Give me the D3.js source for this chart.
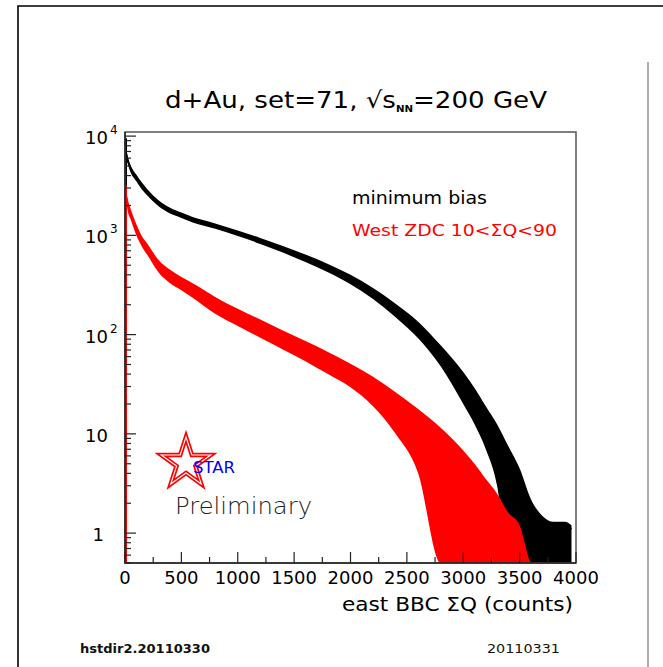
<!DOCTYPE html>
<meta charset="utf-8">
<script src="https://d3js.org/d3.v7.min.js"></script>
<style>
  body { margin: 0; background: #fff; }
  text { font-family: "DejaVu Sans", sans-serif; }
</style>
<svg id="chart" width="663" height="667"></svg>
<script>

var bbcQ = [0, 10, 25, 50, 100, 150, 200, 300, 400, 500, 600, 800, 1000, 1200, 1400, 1600, 1800, 2000,
            2200, 2400, 2600, 2800, 3000, 3100, 3200, 3300, 3400, 3500, 3600, 3700, 3800, 3900, 3960];

// minimum bias: typical value and upper / lower edge of the noise band (0 = empty bins)
var mbMid = [8000, 6800, 5700, 4700, 3800, 3150, 2700, 2100, 1780, 1600, 1440, 1240, 1050, 877, 723, 587, 467, 358,
             259, 175, 111, 62, 30, 19.8, 12.3, 7.4, 3.9, 2.2, 1.8, 1.3, 1.2, 1.2, 1.1];
var mbHi  = [9500, 7600, 6200, 5100, 4100, 3400, 2900, 2250, 1900, 1700, 1530, 1320, 1120, 940, 780, 640, 515, 400,
             295, 205, 135, 78, 42, 29, 19, 12.5, 7.5, 4.5, 2.2, 1.5, 1.3, 1.3, 1.2];
var mbLo  = [6500, 6000, 5200, 4300, 3500, 2900, 2500, 1950, 1660, 1500, 1350, 1165, 985, 820, 670, 540, 425, 322,
             228, 150, 92, 48, 20, 12.5, 7, 3, 0, 0, 0, 0, 0, 0, 0];

// West ZDC 10<SumQ<90
var zdcMid = [3000, 2500, 2000, 1650, 1150, 870, 720, 490, 390, 330, 280, 200, 152, 117, 90, 70, 53, 40.5,
              28, 19, 12.5, 7.8, 4.4, 3.2, 2.5, 2, 1.5, 1.1, 0, 0, 0, 0, 0];
var zdcHi  = [3200, 2800, 2300, 1850, 1300, 980, 820, 560, 450, 380, 330, 240, 182, 142, 110, 86, 67, 51,
              37.6, 26.3, 17.8, 11.5, 6.8, 5, 3.5, 2.5, 1.6, 1.2, 0, 0, 0, 0, 0];
var zdcLo  = [2800, 2300, 1750, 1450, 1000, 770, 630, 420, 330, 280, 235, 162, 122, 93, 71, 54, 40, 29.5,
              19, 10, 4, 0, 0, 0, 0, 0, 0, 0, 0, 0, 0, 0, 0];

var xMajor = [0, 500, 1000, 1500, 2000, 2500, 3000, 3500, 4000];
var xMinor = [250, 750, 1250, 1750, 2250, 2750, 3250, 3750];
var yDecades = [1, 10, 100, 1000, 10000];
var yLabels = ["1", "10", "10|2", "10|3", "10|4"];

var svg = d3.select("svg");

var x = d3.scaleLinear().domain([0, 4000]).range([125, 576]);
var y = d3.scaleLog().domain([0.5, 11000]).range([563, 132]).clamp(true);
var plotBottom = y.range()[0], plotTop = y.range()[1];

// canvas frame
svg.append("path")
  .attr("d", "M18,667 V6 H663")
  .attr("fill", "none").attr("stroke", "#000").attr("stroke-width", 1.6);
svg.append("line")
  .attr("x1", 648).attr("x2", 648).attr("y1", 62).attr("y2", 667)
  .attr("stroke", "#777").attr("stroke-width", 1.2);

svg.append("clipPath").attr("id", "plotclip")
  .append("rect").attr("x", x(0)).attr("y", plotTop)
  .attr("width", x(4000) - x(0)).attr("height", plotBottom - plotTop);

var g = svg.append("g").attr("clip-path", "url(#plotclip)");

function yv(v) { return v > 0 ? y(v) : plotBottom; }

function drawSeries(mid, hi, lo, color) {
  var rows = bbcQ.map(function(q, i) { return {q: q, mid: mid[i], hi: hi[i], lo: lo[i]}; });
  g.append("path").datum(rows)
    .attr("d", d3.area().curve(d3.curveMonotoneX)
      .x(function(d) { return x(d.q); })
      .y0(function(d) { return yv(d.lo); })
      .y1(function(d) { return yv(d.hi); }))
    .attr("fill", color);
  g.append("path").datum(rows)
    .attr("d", d3.line().curve(d3.curveMonotoneX)
      .x(function(d) { return x(d.q); }).y(function(d) { return yv(d.mid); }))
    .attr("fill", "none").attr("stroke", color).attr("stroke-width", 1.6);
  // left edge of the first bin drops down to the frame
  g.append("line")
    .attr("x1", x(0) + 1).attr("x2", x(0) + 1)
    .attr("y1", yv(hi[0])).attr("y2", plotBottom)
    .attr("stroke", color).attr("stroke-width", 2);
}

drawSeries(mbMid, mbHi, mbLo, "#000");
drawSeries(zdcMid, zdcHi, zdcLo, "#ff0000");

// frame of the pad
svg.append("rect")
  .attr("x", x(0)).attr("y", plotTop).attr("width", x(4000) - x(0)).attr("height", plotBottom - plotTop)
  .attr("fill", "none").attr("stroke", "#555").attr("stroke-width", 1.5);
svg.append("path")
  .attr("d", "M" + x(0) + "," + plotTop + " V" + plotBottom + " H" + x(4000))
  .attr("fill", "none").attr("stroke", "#222").attr("stroke-width", 1.5);

// x ticks
var ax = svg.append("g").attr("stroke", "#222").attr("stroke-width", 1.2);
xMajor.forEach(function(v) {
  ax.append("line").attr("x1", x(v)).attr("x2", x(v)).attr("y1", plotBottom).attr("y2", plotBottom - 11);
});
xMinor.forEach(function(v) {
  ax.append("line").attr("x1", x(v)).attr("x2", x(v)).attr("y1", plotBottom).attr("y2", plotBottom - 6);
});
svg.append("g").selectAll("text").data(xMajor).join("text")
  .attr("x", function(d) { return x(d); }).attr("y", 584)
  .attr("text-anchor", "middle").attr("font-size", 18).attr("fill", "#000")
  .text(function(d) { return d; });

// y ticks (log)
var minors = [];
[0.1, 1, 10, 100, 1000].forEach(function(dec) {
  for (var m = 2; m <= 9; m++) {
    var v = dec * m;
    if (v >= 0.5 && v <= 11000) minors.push(v);
  }
});
yDecades.forEach(function(v) {
  ax.append("line").attr("x1", x(0)).attr("x2", x(0) + 11).attr("y1", y(v)).attr("y2", y(v));
});
minors.forEach(function(v) {
  ax.append("line").attr("x1", x(0)).attr("x2", x(0) + 6).attr("y1", y(v)).attr("y2", y(v));
});

yLabels.forEach(function(lab, i) {
  var parts = lab.split("|");
  var t = svg.append("text")
    .attr("y", y(yDecades[i]) + 8)
    .attr("font-size", 18).attr("fill", "#000");
  if (parts.length === 1) {
    t.attr("x", parts[0] === "1" ? 104 : 108).attr("text-anchor", "end").text(parts[0]);
  } else {
    t.attr("x", 85);
    t.append("tspan").text(parts[0]);
    t.append("tspan").attr("dx", 2).attr("dy", -10).attr("font-size", 12).text(parts[1]);
  }
});

// title
var title = svg.append("text")
  .attr("x", 165).attr("y", 108)
  .attr("font-size", 23).attr("fill", "#000")
  .attr("textLength", 382).attr("lengthAdjust", "spacingAndGlyphs");
title.append("tspan").text("d+Au, set=71, \u221As");
title.append("tspan").attr("dy", 4).attr("font-size", 9).attr("font-weight", "bold").text("NN");
title.append("tspan").attr("dy", -4).text("=200 GeV");

// legend
svg.append("text").attr("x", 352).attr("y", 204)
  .attr("font-size", 17).attr("fill", "#000")
  .attr("textLength", 135).attr("lengthAdjust", "spacingAndGlyphs")
  .text("minimum bias");
svg.append("text").attr("x", 352).attr("y", 236)
  .attr("font-size", 16).attr("fill", "#ff0000")
  .attr("textLength", 205).attr("lengthAdjust", "spacingAndGlyphs")
  .text("West ZDC 10<\u03A3Q<90");

// STAR preliminary logo
var star = d3.symbol().type(d3.symbolStar).size(26 * 26 / 0.8908130915292852);
svg.append("path").attr("d", star()).attr("transform", "translate(186,463)")
  .attr("fill", "none").attr("stroke", "#ff0000").attr("stroke-width", 4.5).attr("stroke-linejoin", "miter");
svg.append("path").attr("d", star()).attr("transform", "translate(186,463)")
  .attr("fill", "none").attr("stroke", "#fff").attr("stroke-width", 1.1);
svg.append("text").attr("x", 193).attr("y", 473)
  .attr("font-size", 16).attr("fill", "#0000ff")
  .attr("textLength", 42).attr("lengthAdjust", "spacingAndGlyphs").text("STAR");
svg.append("text").attr("x", 175).attr("y", 514)
  .attr("font-size", 23).attr("font-weight", 300).attr("fill", "#222")
  .attr("textLength", 137).attr("lengthAdjust", "spacingAndGlyphs").text("Preliminary");

// axis title
svg.append("text").attr("x", 342).attr("y", 611)
  .attr("font-size", 19).attr("fill", "#000")
  .attr("textLength", 231).attr("lengthAdjust", "spacingAndGlyphs")
  .text("east BBC \u03A3Q (counts)");

// footer
svg.append("text").attr("x", 80).attr("y", 653)
  .attr("font-size", 12).attr("font-weight", "bold").attr("fill", "#111")
  .attr("textLength", 130).attr("lengthAdjust", "spacingAndGlyphs")
  .text("hstdir2.20110330");
svg.append("text").attr("x", 487).attr("y", 653)
  .attr("font-size", 13).attr("fill", "#111")
  .attr("textLength", 73).attr("lengthAdjust", "spacingAndGlyphs")
  .text("20110331");

</script>
